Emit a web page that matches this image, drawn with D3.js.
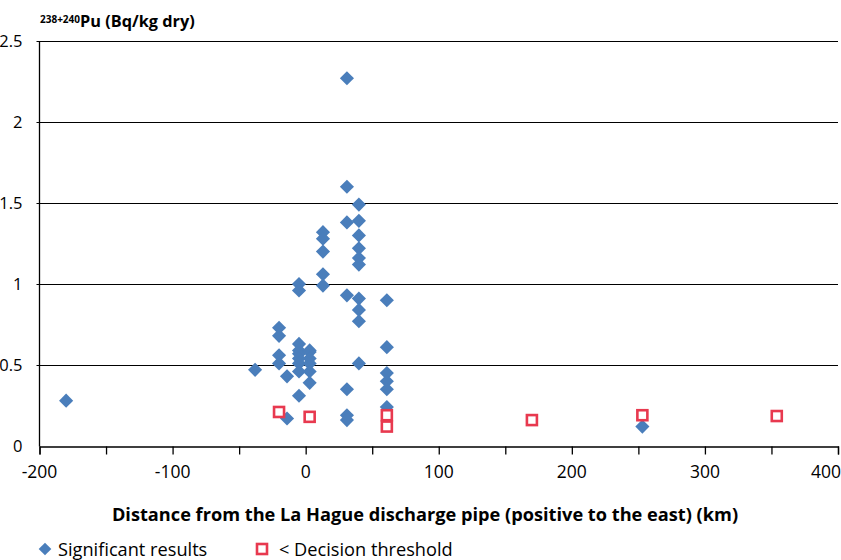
<!DOCTYPE html>
<html>
<head>
<meta charset="utf-8">
<script src="https://cdn.jsdelivr.net/npm/d3@7"></script>
<style>
  html, body { margin: 0; padding: 0; background: #fff; }
  svg text { font-family: "Open Sans", "Noto Sans", sans-serif; fill: #000; }
</style>
</head>
<body>
<svg id="chart" width="841" height="560"></svg>
<script>
// ---- data ----
const sigX = [-180, -38,
  -20, -20, -20, -20,
  -14, -14,
  -5, -5, -5, -5, -5, -5, -5, -5, -5,
  3, 3, 3, 3, 3, 3,
  13, 13, 13, 13, 13,
  31, 31, 31, 31, 31, 31, 31,
  40, 40, 40, 40, 40, 40, 40, 40, 40, 40,
  61, 61, 61, 61, 61, 61,
  253];
const sigY = [0.28, 0.47,
  0.73, 0.68, 0.56, 0.51,
  0.43, 0.17,
  1.00, 0.96, 0.63, 0.59, 0.57, 0.54, 0.51, 0.46, 0.31,
  0.59, 0.58, 0.54, 0.51, 0.46, 0.39,
  1.32, 1.28, 1.20, 1.06, 0.99,
  2.27, 1.60, 1.38, 0.93, 0.35, 0.19, 0.16,
  1.49, 1.39, 1.30, 1.22, 1.16, 1.12, 0.91, 0.84, 0.77, 0.51,
  0.90, 0.61, 0.45, 0.40, 0.35, 0.24,
  0.12];
const thrX = [-20, 3, 61, 61, 170, 253, 354];
const thrY = [0.21, 0.18, 0.19, 0.12, 0.16, 0.19, 0.185];
const xTicks = [-200, -100, 0, 100, 200, 300, 400];
const xMinorTicks = [-200, -150, -100, -50, 0, 50, 100, 150, 200, 250, 300, 350, 400];
const yTicks = [0, 0.5, 1, 1.5, 2, 2.5];
const yTickLabels = ["0", "0.5", "1", "1.5", "2", "2.5"];
const xTitle = "Distance from the La Hague discharge pipe (positive to the east) (km)";
const legendLabels = ["Significant results", "< Decision threshold"];

// ---- layout ----
const svg = d3.select("#chart");
const mLeft = 39.5, mRight = 838, mTop = 41, mBottom = 446;
const x = d3.scaleLinear().domain([-200, 400]).range([mLeft, mRight]);
const y = d3.scaleLinear().domain([0, 2.5]).range([mBottom, mTop]);
const blue = "#4A7EBB";
const red = "#E8394F";

// gridlines
svg.append("g").selectAll("line").data(yTicks.filter(d => d > 0)).join("line")
  .attr("x1", mLeft - 3).attr("x2", mRight)
  .attr("y1", d => Math.round(y(d)) + 0.5).attr("y2", d => Math.round(y(d)) + 0.5)
  .attr("stroke", "#000").attr("stroke-width", 1);

// y axis line
svg.append("line").attr("x1", mLeft).attr("x2", mLeft).attr("y1", mTop).attr("y2", mBottom + 0.5)
  .attr("stroke", "#000").attr("stroke-width", 1.3);

// y tick labels
svg.append("g").selectAll("text").data(yTicks).join("text")
  .attr("x", 22.5).attr("y", d => y(d)).attr("dy", "0.36em")
  .attr("text-anchor", "end").attr("font-size", 16.5)
  .text((d, i) => yTickLabels[i]);

// x axis
const xAxis = d3.axisBottom(x).tickValues(xMinorTicks).tickSize(8).tickFormat("");
const gx = svg.append("g").attr("transform", `translate(0,${Math.round(mBottom) + 0.5})`).call(xAxis);
gx.select(".domain").attr("stroke", "#000").attr("stroke-width", 1.3);
gx.selectAll(".tick line").attr("stroke", "#000").attr("stroke-width", 1.3);
svg.append("g").selectAll("text").data(xTicks).join("text")
  .attr("x", d => Math.max(31, Math.min(x(d), 826)))
  .attr("y", 478)
  .attr("text-anchor", "middle").attr("font-size", 17.5)
  .text(d => d);

// x title
svg.append("text").attr("x", 425).attr("y", 520.5).attr("text-anchor", "middle")
  .attr("font-size", 18.2).attr("font-weight", "bold").text(xTitle);

// y title
const yt = svg.append("text").attr("x", 40).attr("y", 27).attr("font-weight", "bold");
yt.append("tspan").attr("font-size", 10).attr("dy", "-4").text("238+240");
yt.append("tspan").attr("font-size", 16.3).attr("dy", "4").text("Pu (Bq/kg dry)");

// significant results (diamonds)
const diamond = d3.symbol().type(d3.symbolSquare).size(100);
svg.append("g").selectAll("path").data(sigX.map((d, i) => [d, sigY[i]])).join("path")
  .attr("d", diamond)
  .attr("transform", d => `translate(${x(d[0])},${y(d[1])}) rotate(45)`)
  .attr("fill", blue);

// below decision threshold (squares)
svg.append("g").selectAll("rect").data(thrX.map((d, i) => [d, thrY[i]])).join("rect")
  .attr("x", d => x(d[0]) - 5).attr("y", d => y(d[1]) - 5)
  .attr("width", 10).attr("height", 10)
  .attr("fill", "#fff").attr("stroke", red).attr("stroke-width", 2.6);

// legend
const lg = svg.append("g");
lg.append("path").attr("d", d3.symbol().type(d3.symbolSquare).size(80))
  .attr("transform", "translate(45,549) rotate(45)").attr("fill", blue);
lg.append("text").attr("x", 58).attr("y", 555.5).attr("font-size", 18.2).text(legendLabels[0]);
lg.append("rect").attr("x", 257).attr("y", 544).attr("width", 10).attr("height", 10)
  .attr("fill", "#fff").attr("stroke", red).attr("stroke-width", 2.6);
lg.append("text").attr("x", 279).attr("y", 555.5).attr("font-size", 18.2).text(legendLabels[1]);
</script>
</body>
</html>
